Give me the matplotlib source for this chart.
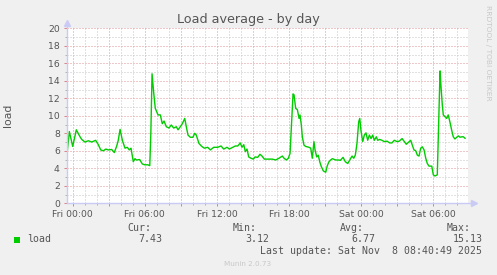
import matplotlib
matplotlib.use("Agg")
import matplotlib.pyplot as plt
from matplotlib.ticker import MultipleLocator

# hours since Fri 00:00 and load values
hours = [-0.5, -0.28, 0.0, 0.3, 0.61, 0.75, 1.02, 1.3, 1.58, 1.91, 2.13, 2.33, 2.55,
         2.75, 2.96, 3.24, 3.46, 3.66, 3.79, 3.94, 4.13, 4.35, 4.54, 4.71, 4.85,
         5.04, 5.18, 5.3, 5.57, 5.79, 5.99, 6.26, 6.41, 6.5, 6.6, 6.74, 6.87, 7.1,
         7.29, 7.45, 7.6, 7.79, 8.01, 8.2, 8.4, 8.62, 8.76, 8.95, 9.12, 9.32, 9.45,
         9.59, 9.78, 10.0, 10.15, 10.28, 10.5, 10.7, 10.84, 10.95, 11.23, 11.45,
         11.73, 12.06, 12.34, 12.56, 12.84, 13.03, 13.31, 13.53, 13.73, 13.94,
         14.08, 14.23, 14.36, 14.5, 14.64, 14.83, 15.03, 15.17, 15.39, 15.58,
         15.75, 15.94, 16.22, 16.5, 16.6, 16.89, 17.16, 17.44, 17.58, 17.77,
         17.94, 18.08, 18.19, 18.33, 18.41, 18.55, 18.69, 18.83, 18.91, 19.02,
         19.1, 19.24, 19.38, 19.66, 19.8, 19.93, 20.07, 20.16, 20.3, 20.43,
         20.55, 20.68, 20.85, 21.05, 21.18, 21.32, 21.46, 21.6, 21.88, 22.15,
         22.26, 22.49, 22.68, 22.88, 23.09, 23.24, 23.38, 23.51, 23.65, 23.79,
         23.88, 23.99, 24.13, 24.26, 24.4, 24.54, 24.68, 24.82, 24.96, 25.09,
         25.26, 25.37, 25.54, 25.73, 25.92, 26.15, 26.37, 26.56, 26.75, 26.98,
         27.17, 27.4, 27.59, 27.75, 28.0, 28.12, 28.25, 28.39, 28.54, 28.67,
         28.81, 28.95, 29.09, 29.23, 29.37, 29.5, 29.64, 29.87, 30.0, 30.14,
         30.33, 30.56, 30.64, 30.75, 30.83, 30.97, 31.11, 31.24, 31.38, 31.52,
         31.66, 31.8, 31.95, 32.08, 32.22, 32.36, 32.5, 32.64]
load = [5.3, 8.2, 6.5, 8.4, 7.6, 7.3, 7.0, 7.15, 7.0, 7.2, 6.7, 6.1, 6.0,
        6.2, 6.1, 6.15, 5.8, 6.55, 7.2, 8.45, 7.2, 6.3, 6.4, 6.1, 6.3,
        4.75, 5.1, 4.95, 5.0, 4.5, 4.4, 4.4, 4.3, 8.0, 14.8, 12.6, 10.85, 10.1,
        10.1, 9.1, 9.4, 8.75, 8.6, 8.95, 8.6, 8.75, 8.4, 8.75, 9.1, 9.7, 8.75,
        7.8, 7.55, 7.55, 8.0, 7.8, 6.85, 6.55, 6.4, 6.3, 6.4, 6.1,
        6.4, 6.4, 6.55, 6.2, 6.4, 6.2, 6.4, 6.55, 6.55, 6.9,
        6.4, 6.7, 5.9, 6.2, 5.3, 5.15, 5.05, 5.3, 5.25, 5.6,
        5.4, 5.05, 5.05, 5.05, 5.05, 4.95, 5.15, 5.4, 5.15, 4.95,
        5.15, 5.7, 8.75, 12.5, 12.4, 10.85, 10.7, 9.7, 10.1, 8.95,
        7.6, 6.65, 6.5, 6.4, 6.3, 5.15, 7.05, 6.1, 5.3, 5.5,
        4.75, 4.2, 3.7, 3.55, 4.3, 4.75, 4.95, 5.1, 4.95, 4.95,
        4.9, 5.25, 4.75, 4.55, 5.05, 5.4, 5.15, 5.5, 6.85, 9.3,
        9.7, 8.2, 7.05, 7.8, 8.05, 7.2, 7.8, 7.4, 7.8, 7.2,
        7.6, 7.2, 7.3, 7.2, 7.05, 7.1, 6.9, 6.9, 7.2, 7.05,
        7.1, 7.4, 7.05, 6.75, 7.05, 7.2, 6.65, 6.1, 6.0, 5.5,
        5.4, 6.3, 6.45, 6.1, 5.15, 4.55, 4.25, 4.25, 3.25, 3.12,
        3.25, 15.13, 13.3, 11.2, 10.1, 9.9, 9.7, 10.1, 9.3, 8.4,
        7.6, 7.35, 7.55, 7.7, 7.55, 7.6, 7.6, 7.43]

tick_hours = [0, 6, 12, 18, 24, 30]
tick_labels = ["Fri 00:00", "Fri 06:00", "Fri 12:00", "Fri 18:00", "Sat 00:00", "Sat 06:00"]

legend_name = "load"
stats_labels = ["Cur:", "Min:", "Avg:", "Max:"]
stats_values = ["7.43", "3.12", "6.77", "15.13"]
last_update = "Last update: Sat Nov  8 08:40:49 2025"

W, H = 497, 275
txt = "#555555"
bg = "#f0f0f0"

fig = plt.figure(figsize=(W / 100, H / 100), dpi=100, facecolor=bg)


def px(x, y):
    return x / W, 1 - y / H


x0, x1, y0, y1 = 66.7, 467.7, 203.3, 28.3
ax = fig.add_axes([x0 / W, 1 - y0 / H, (x1 - x0) / W, (y0 - y1) / H])
ax.set_facecolor("white")
ax.set_xlim(-0.5, 32.86)
ax.set_ylim(0, 20)

# grid: gray minor, red major, dotted like rrdtool
ax.xaxis.set_major_locator(MultipleLocator(3))
ax.xaxis.set_minor_locator(MultipleLocator(1))
ax.yaxis.set_major_locator(MultipleLocator(2))
ax.yaxis.set_minor_locator(MultipleLocator(1))
ax.grid(which="minor", color="#c4c4c4", linestyle=(0, (1, 2)), linewidth=0.72)
ax.grid(which="major", color="#e09494", linestyle=(0, (1, 2)), linewidth=0.72)
ax.set_axisbelow(True)

ax.set_xticks([h for h in range(0, 33, 3)])
ax.set_xticklabels([tick_labels[tick_hours.index(h)] if h in tick_hours else "" for h in range(0, 33, 3)])
ax.set_yticks(range(0, 21, 2))
ax.tick_params(axis="x", which="major", length=2.5, width=0.72, color="#e08080",
               labelsize=6.7, labelcolor=txt, pad=2)
ax.tick_params(axis="x", which="minor", length=1.5, width=0.72, color="#b0b0b0")
ax.tick_params(axis="y", which="major", length=2, width=0.72, color="#e08080",
               labelsize=6.7, labelcolor=txt, pad=3)
ax.tick_params(axis="y", which="minor", length=1.5, width=0.72, color="#b0b0b0")

for s in ax.spines.values():
    s.set_visible(False)

ax.plot(hours, load, color="#00cc00", linewidth=1.0, zorder=3)

# axes with arrows
axc = "#cacaf6"
ax.plot([0, 0], [0, 1.03], transform=ax.transAxes, color=axc, lw=1, clip_on=False, zorder=4)
ax.plot([0, 1.015], [0, 0], transform=ax.transAxes, color=axc, lw=1, clip_on=False, zorder=4)
ax.plot([0], [1.03], marker="^", markersize=4, color=axc, transform=ax.transAxes, clip_on=False, zorder=4)
ax.plot([1.015], [0], marker=">", markersize=4, color=axc, transform=ax.transAxes, clip_on=False, zorder=4)

fig.text(*px(248, 20), "Load average - by day", ha="center", va="center",
         fontsize=9.2, color=txt)
fig.text(*px(8, 115), "load", ha="center", va="center", rotation=90,
         fontsize=7.8, color=txt)
fig.text(*px(488, 5), "RRDTOOL / TOBI OETIKER", ha="center", va="top", rotation=270,
         fontsize=5.4, color="#c8c8c8")

mono = "DejaVu Sans Mono"
fs = 7.1
fig.patches.append(plt.Rectangle(px(14, 242.5), 6 / W, 6 / H, transform=fig.transFigure,
                                 facecolor="#00cc00", edgecolor="none"))
fig.text(*px(27, 239.5), legend_name, ha="left", va="center", family=mono, fontsize=fs, color=txt)

label_x = [127.7, 233, 340, 446.7]
value_x = [162.7, 269.3, 375, 482.3]
for lab, lx, val, vx in zip(stats_labels, label_x, stats_values, value_x):
    fig.text(*px(lx, 227.7), lab, ha="left", va="center", family=mono, fontsize=fs, color=txt)
    fig.text(*px(vx, 239.5), val, ha="right", va="center", family=mono, fontsize=fs, color=txt)
fig.text(*px(482.3, 251), last_update, ha="right", va="center", family=mono, fontsize=fs, color=txt)
fig.text(*px(248, 264), "Munin 2.0.73", ha="center", va="center", fontsize=5.2, color="#c8c8c8")

fig.savefig("out.png", dpi=100, facecolor=bg)
